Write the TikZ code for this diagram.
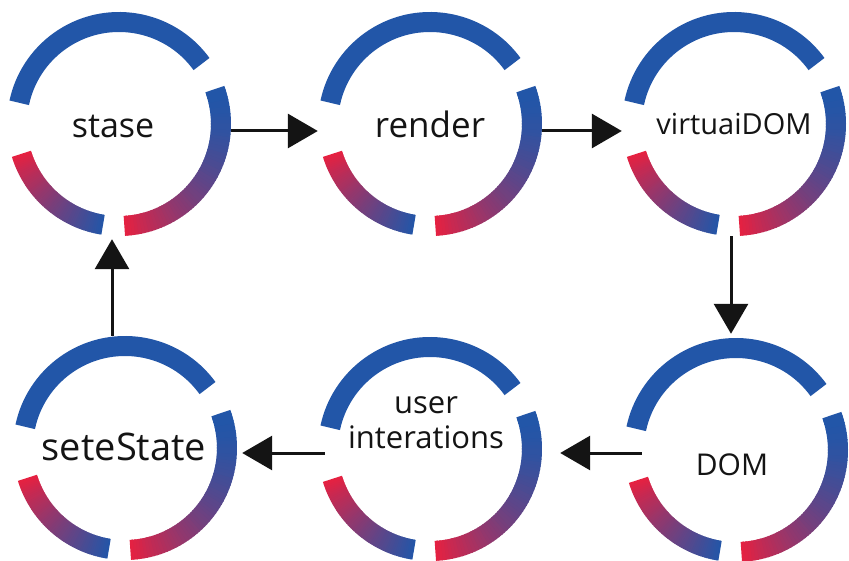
\documentclass[tikz,border=0pt]{standalone}
\usepackage{fontspec}
\setmainfont{Open Sans}
\usetikzlibrary{arrows.meta}

\definecolor{ringblue}{RGB}{34,86,168}
\definecolor{ringred}{RGB}{232,32,64}
\definecolor{inkblack}{RGB}{20,20,20}

% Arc of the ring whose colour runs from #4 to #5 between angles #2 and #3
% around centre #1; #6 bends the colour ramp.
\newcommand\shadearc[6]{%
  \foreach \k in {0,...,59}{%
    \pgfmathsetmacro\angA{#2+(#3-#2)*\k/60}%
    \pgfmathsetmacro\angB{#2+(#3-#2)*min(\k+1.4,60)/60}%
    \pgfmathtruncatemacro\mixp{100*((\k+0.5)/60)^#6}%
    \colorlet{segc}{#5!\mixp!#4}%
    \draw[ring, segc] ([shift={(\angA:102pt)}]#1) arc[start angle=\angA, end angle=\angB, radius=102pt];
  }%
}

% The broken ring drawn round a stage node
\newcommand\drawring[1]{%
  \draw[ring, ringblue] ([shift={(36:102pt)}]#1.center) arc[start angle=36, end angle=168, radius=102pt];
  \shadearc{#1.center}{20}{-87}{ringblue}{ringred}{1.7}
  \shadearc{#1.center}{197}{261}{ringred}{ringblue}{0.9}
}

\begin{document}
\begin{tikzpicture}[x=1pt,y=-1pt,
  stage/.style={circle, minimum size=224pt, inner sep=0pt},
  ring/.style={line width=20pt, line cap=butt},
  lbl/.style={anchor=base, text=inkblack, inner sep=0pt},
  flow/.style={line width=3pt, draw=inkblack, -{Triangle[length=30pt,width=34pt]}}]
\useasboundingbox (0,0) rectangle (849,561);
\fill[white] (0,0) rectangle (849,561);

% stages of the cycle
\node[stage] (st) at (119,124) {};
\node[stage] (re) at (430,124) {};
\node[stage] (vd) at (734,124) {};
\node[stage] (ss) at (125,448) {};
\node[stage] (ui) at (430,449) {};
\node[stage] (dm) at (736,450) {};

\foreach \c in {st,re,vd,ss,ui,dm}{\drawring{\c}}

% stage labels
\node[lbl, font=\fontsize{34}{40}\selectfont] at ([xshift=-6pt,yshift=-14pt]st.center) {stase};
\node[lbl, font=\fontsize{35}{40}\selectfont] at ([xshift=0pt,yshift=-14pt]re.center) {render};
\node[lbl, font=\fontsize{29}{34}\selectfont] at ([xshift=0pt,yshift=-11pt]vd.center) {virtuaiDOM};
\node[lbl, font=\fontsize{38}{44}\selectfont] at ([xshift=-1pt,yshift=-12pt]ss.center) {seteState};
\node[lbl, align=center, font=\fontsize{31}{35}\selectfont] at ([xshift=-4pt,yshift=1pt]ui.center) {user\\interations};
\node[lbl, font=\fontsize{30}{35}\selectfont] at ([xshift=-4pt,yshift=-25pt]dm.center) {DOM};

% flow between stages
\draw[flow] ([yshift=-7pt]st.east) -- ([yshift=-7pt]re.west);
\draw[flow] ([yshift=-7pt]re.east) -- ([yshift=-7pt]vd.west);
\draw[flow] ([xshift=-3pt]vd.south) -- ([xshift=-5pt,yshift=4pt]dm.north);
\draw[flow] ([xshift=18pt,yshift=-3pt]dm.west) -- ([xshift=18pt,yshift=-4pt]ui.east);
\draw[flow] ([xshift=7pt,yshift=-4pt]ui.west) -- ([xshift=5pt,yshift=-5pt]ss.east);
\draw[flow] ([xshift=-13pt]ss.north) -- ([xshift=-7pt,yshift=-3pt]st.south);
\end{tikzpicture}
\end{document}
